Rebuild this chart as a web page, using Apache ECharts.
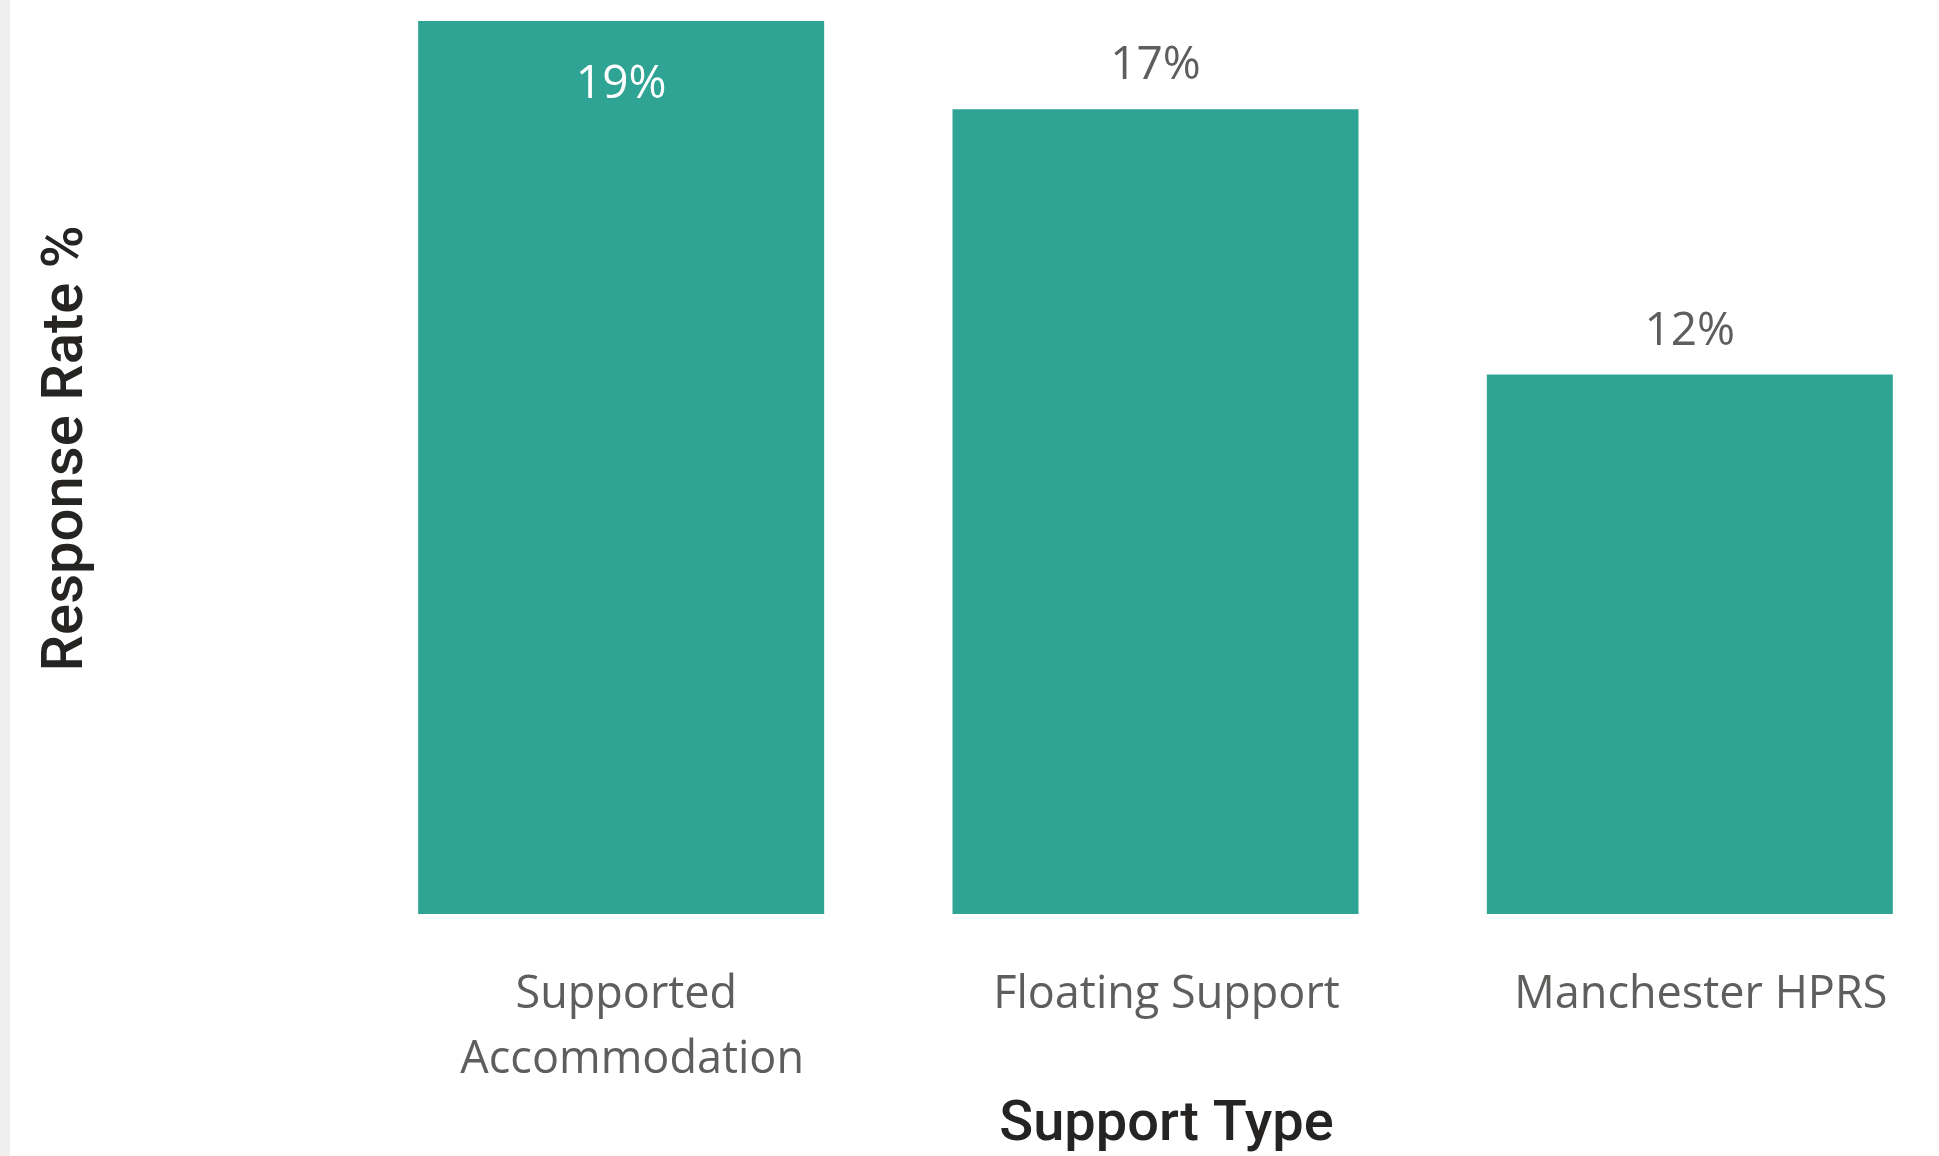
<!DOCTYPE html>
<html>
<head>
<meta charset="utf-8">
<script src="https://cdn.jsdelivr.net/npm/echarts@6/dist/echarts.min.js"></script>
<style>
  html, body { margin: 0; padding: 0; background: #ffffff; overflow: hidden; }
  /* the plot runs slightly past the right edge of the view */
  #chart { width: 1980px; height: 1156px; }
</style>
</head>
<body>
<div id="chart"></div>
<script>
// Survey response rate by support type (percent)
const categories = ['Supported Accommodation', 'Floating Support', 'Manchester HPRS'];
const responseRates = [19.2, 17.3, 11.6];

const barColor = '#2FA494';
const labelFont = '"Open Sans", "Noto Sans", sans-serif';
const titleFont = 'Roboto, "Noto Sans", sans-serif';

const chart = echarts.init(document.getElementById('chart'));

chart.setOption({
  animation: false,
  backgroundColor: '#ffffff',
  graphic: [{
    type: 'rect',
    left: 0, top: 0,
    shape: { width: 10, height: 1156 },
    style: { fill: '#EFEFEF' },
    silent: true
  }],
  grid: { left: 354, top: 21, right: 23, bottom: 242, outerBoundsMode: 'none', containLabel: false },
  xAxis: {
    type: 'category',
    data: categories,
    axisLine: { show: false },
    axisTick: { show: false },
    axisLabel: {
      color: '#605E5C',
      fontFamily: labelFont,
      fontSize: 45,
      lineHeight: 65,
      margin: 49,
      width: 440,
      overflow: 'break',
      interval: 0,
      padding: [0, 0, 0, 22]
    },
    name: 'Support Type',
    nameLocation: 'middle',
    nameGap: 178,
    nameTextStyle: {
      color: '#252423',
      fontFamily: titleFont,
      fontWeight: 500,
      fontSize: 56,
      padding: [0, 0, 0, 22]
    }
  },
  yAxis: {
    type: 'value',
    min: 0,
    max: 19.2,
    axisLine: { show: false },
    axisTick: { show: false },
    axisLabel: { show: false },
    splitLine: { show: false },
    name: 'Response Rate %',
    nameLocation: 'middle',
    nameGap: 258,
    nameTextStyle: {
      color: '#252423',
      fontFamily: titleFont,
      fontWeight: 500,
      fontSize: 58,
      padding: [0, 0, 0, 38]
    }
  },
  series: [{
    type: 'bar',
    data: responseRates.map((v, i) => ({
      value: v,
      label: i === 0
        ? { position: 'insideTop', distance: 41, color: '#ffffff' }
        : { position: 'top', distance: 20, color: '#605E5C' }
    })),
    barWidth: 406,
    itemStyle: { color: barColor },
    label: {
      show: true,
      fontFamily: labelFont,
      fontSize: 46,
      formatter: p => Math.round(p.value) + '%'
    }
  }]
});
</script>
</body>
</html>
